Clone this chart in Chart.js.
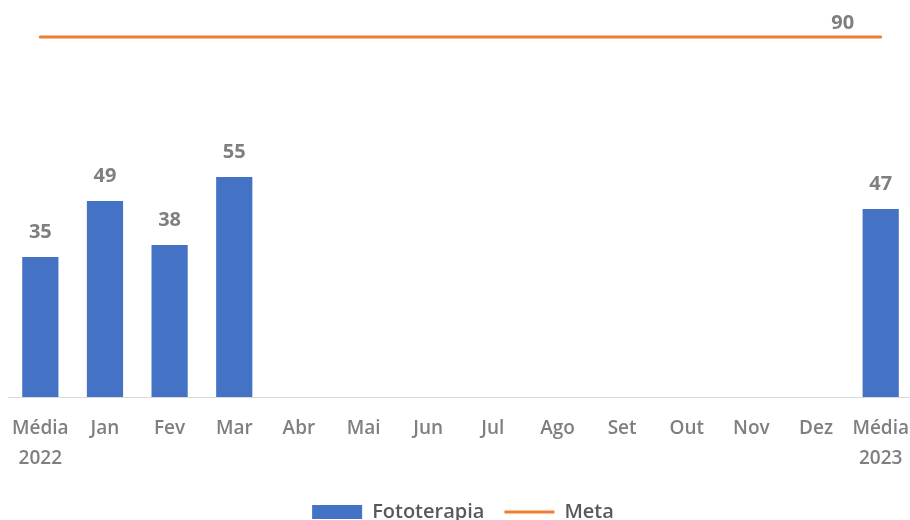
<!DOCTYPE html>
<html>
<head>
<meta charset="utf-8">
<script src="https://cdn.jsdelivr.net/npm/chart.js@4.4.1/dist/chart.umd.min.js"></script>
<style>
  html, body { margin: 0; padding: 0; background: #fff; overflow: hidden; }
  #wrap { width: 918px; height: 532px; position: relative; }
</style>
</head>
<body>
<div id="wrap"><canvas id="chart"></canvas></div>
<script>
// chart data
var categories = [["Média", "2022"], "Jan", "Fev", "Mar", "Abr", "Mai", "Jun", "Jul", "Ago", "Set", "Out", "Nov", "Dez", ["Média", "2023"]];
var fototerapia = [35, 49, 38, 55, null, null, null, null, null, null, null, null, null, 47];
var meta = [90, 90, 90, 90, 90, 90, 90, 90, 90, 90, 90, 90, 90, 90];

var grey = "#7f7f7f";
var fontFamily = "'Open Sans', 'DejaVu Sans', sans-serif";

// value labels (bars: all, meta: only the last point)
var valueLabels = {
    id: "valueLabels",
    afterDatasetsDraw(chart) {
        let ctx = chart.ctx;
        ctx.save();
        ctx.font = "bold 20px " + fontFamily;
        ctx.fillStyle = grey;
        ctx.textAlign = "center";
        ctx.textBaseline = "middle";
        chart.getDatasetMeta(0).data.forEach((el, i) => {
            let v = fototerapia[i];
            if (v === null) return;
            ctx.fillText(v, el.x, el.y - 25);
        });
        let lineMeta = chart.getDatasetMeta(1).data;
        let last = lineMeta[lineMeta.length - 1];
        ctx.fillText(meta[meta.length - 1], last.x - 38, last.y - 14);
        ctx.restore();
    },
};

let ctx = document.getElementById("chart").getContext("2d");
let myChart = new Chart(ctx, {
    type: "bar",
    data: {
        labels: categories,
        datasets: [
            {
                label: "Fototerapia",
                data: fototerapia,
                backgroundColor: "#4472c4",
                borderWidth: 0,
                categoryPercentage: 1,
                barPercentage: 0.56,
            },
            {
                type: "line",
                label: "Meta",
                data: meta,
                borderColor: "#ed7d31",
                backgroundColor: "#ed7d31",
                borderWidth: 3,
                pointRadius: 0,
                borderCapStyle: "round",
            },
        ],
    },
    options: {
        responsive: true,
        maintainAspectRatio: false,
        animation: false,
        layout: {
            padding: { top: 17, left: 8, right: 0, bottom: 0 },
        },
        plugins: {
            tooltip: { enabled: false },
            legend: {
                position: "bottom",
                labels: {
                    usePointStyle: true,
                    pointStyleWidth: 50,
                    boxHeight: 14,
                    padding: 20,
                    color: "#595959",
                    font: { family: fontFamily, size: 20, weight: "600" },
                    generateLabels(chart) {
                        let items = Chart.defaults.plugins.legend.labels.generateLabels(chart);
                        items.forEach((item) => {
                            if (item.datasetIndex === 0) {
                                item.pointStyle = "rect";
                                item.fillStyle = "#4472c4";
                                item.lineWidth = 0;
                            } else {
                                item.pointStyle = "line";
                                item.strokeStyle = "#ed7d31";
                                item.lineWidth = 3;
                            }
                        });
                        return items;
                    },
                },
            },
        },
        scales: {
            x: {
                offset: true,
                grid: {
                    display: false,
                },
                border: {
                    display: true,
                    color: "#d9d9d9",
                    width: 1,
                },
                ticks: {
                    color: grey,
                    padding: 9,
                    maxRotation: 0,
                    autoSkip: false,
                    font: { family: fontFamily, size: 19, weight: "600", lineHeight: 1.55 },
                },
            },
            y: {
                display: false,
                min: 0,
                max: 95,
            },
        },
    },
    plugins: [valueLabels],
});
</script>
</body>
</html>
